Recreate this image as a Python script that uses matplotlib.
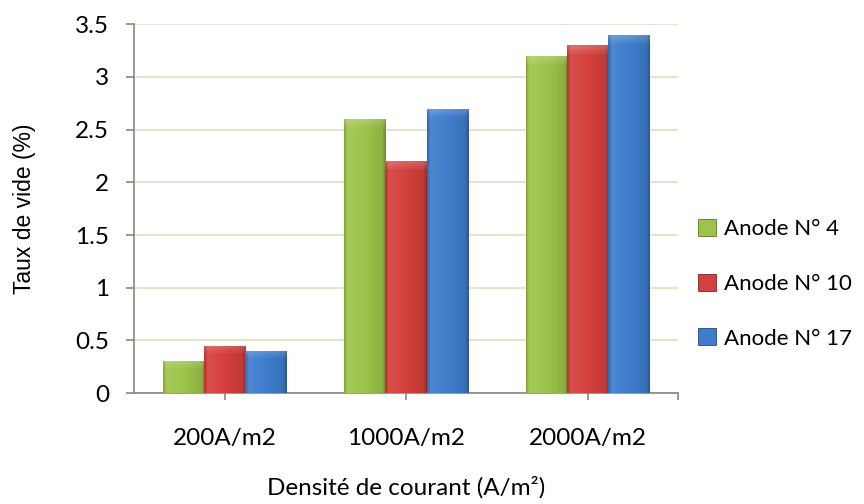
import numpy as np
import matplotlib
matplotlib.use("Agg")
import matplotlib.pyplot as plt
from matplotlib.colors import to_rgb

categories = ["200A/m2", "1000A/m2", "2000A/m2"]
series_names = ["Anode N° 4", "Anode N° 10", "Anode N° 17"]
anode_4 = [0.3, 2.6, 3.2]
anode_10 = [0.45, 2.2, 3.3]
anode_17 = [0.4, 2.7, 3.4]
series_values = [anode_4, anode_10, anode_17]
colors = ["#9dc44a", "#d4403d", "#3e7dcc"]
y_ticks = [0, 0.5, 1, 1.5, 2, 2.5, 3, 3.5]
y_tick_labels = ["0", "0.5", "1", "1.5", "2", "2.5", "3", "3.5"]

FS = 17.5

fig = plt.figure(figsize=(8.64, 5.04), dpi=100)
ax = fig.add_axes([0.155, 0.220, 0.630, 0.732])

width = 0.227
x = np.arange(len(categories))


def shade(color, f):
    c = np.array(to_rgb(color))
    if f >= 1:
        return c + (1 - c) * (f - 1)
    return c * f


handles = []
for i, (name, vals, col) in enumerate(zip(series_names, series_values, colors)):
    bars = ax.bar(x + (i - 1) * width, vals, width, color=col, label=name,
                  edgecolor=shade(col, 0.6), linewidth=0.6, zorder=3)
    handles.append(bars)
    # bevel-like gradient clipped to each bar
    for b in bars:
        bx, by = b.get_x(), b.get_y()
        bw, bh = b.get_width(), b.get_height()
        nx, ny = 40, 80
        u = np.linspace(0, 1, nx)
        horiz = np.interp(u, [0, 0.08, 0.5, 0.92, 1], [0.85, 1.08, 1.0, 0.9, 0.72])
        img = np.zeros((ny, nx, 3))
        for k in range(ny):
            img[k] = [shade(col, h) for h in horiz]
        # soft lighter bevel at the top
        band = min(0.08 / max(bh, 0.08), 0.35)
        rows = np.linspace(1, 0, ny)  # 1 at top of bar
        for k, r in enumerate(rows):
            d = r - (1 - band)
            if d > 0:
                a = 0.18 * (d / band)
                img[k] = np.clip(img[k] * (1 - a) + a, 0, 1)
        im = ax.imshow(img, extent=[bx, bx + bw, by, by + bh], aspect="auto",
                       origin="upper", zorder=3.5, interpolation="bilinear")
        im.set_clip_path(b)

ax.set_xlim(-0.5, 2.5)
ax.set_ylim(0, 3.5)

ax.set_yticks(y_ticks)
ax.set_yticklabels(y_tick_labels, fontsize=FS, family="Lato")
ax.set_xticks(list(x) + [2.5])
ax.set_xticklabels(categories + [""], fontsize=FS, family="Lato")

ax.yaxis.grid(True, color="#d7e4bd", linewidth=1.2, zorder=0)
ax.set_axisbelow(True)

for s in ["top", "right"]:
    ax.spines[s].set_visible(False)
for s in ["left", "bottom"]:
    ax.spines[s].set_color("#868686")
    ax.spines[s].set_linewidth(1.2)

ax.tick_params(axis="y", length=6, width=1.2, color="#868686", pad=12)
ax.tick_params(axis="x", length=5, width=1.2, color="#868686", pad=20)

ax.set_ylabel("Taux de vide (%)", fontsize=16.5, family="Liberation Sans", labelpad=28)
ax.set_xlabel("Densité de courant (A/m²)", fontsize=FS, family="Lato", labelpad=20)

fig.legend(handles=handles, labels=series_names, loc="center left",
           bbox_to_anchor=(0.808, 0.437), frameon=False, borderpad=0,
           borderaxespad=0, prop={"family": "Lato", "size": 16},
           handlelength=0.8, handleheight=0.8, handletextpad=0.35,
           labelspacing=1.55)

fig.savefig("out.png", dpi=100)
